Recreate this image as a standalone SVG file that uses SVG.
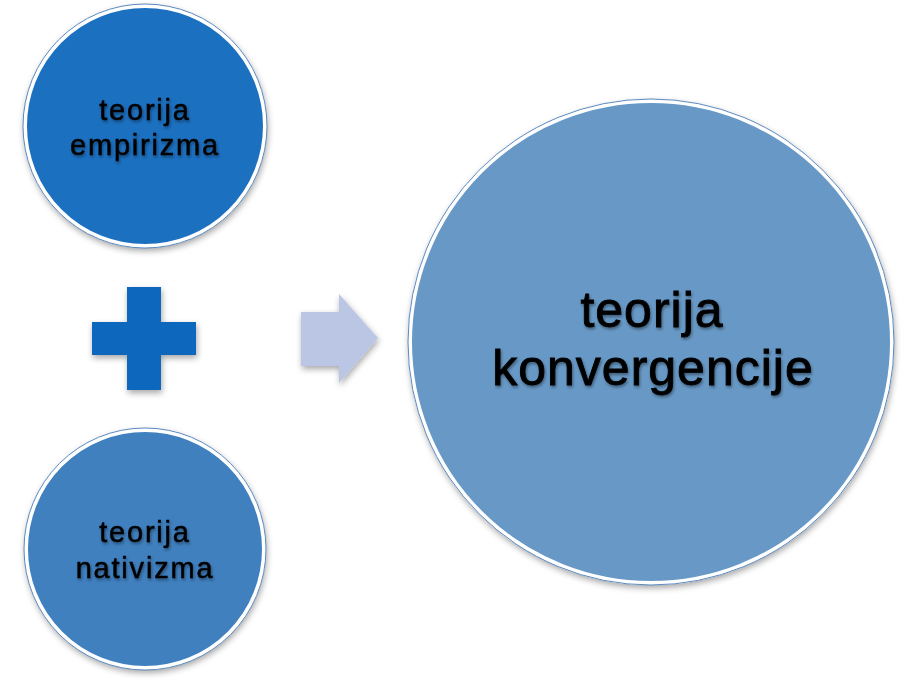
<svg xmlns="http://www.w3.org/2000/svg" width="905" height="680" viewBox="0 0 905 680">
<defs>
<filter id="sh" x="-20%" y="-20%" width="140%" height="140%">
<feDropShadow dx="1" dy="3" stdDeviation="3" flood-color="#000" flood-opacity="0.35"/>
</filter>
<filter id="tsh" x="-10%" y="-30%" width="120%" height="160%">
<feDropShadow dx="1" dy="2" stdDeviation="1.5" flood-color="#000" flood-opacity="0.4"/>
</filter>
<style>
.ring{stroke:#fff;stroke-width:4}
.edge{fill:none;stroke:#5b8ac0;stroke-width:1}
.lbl{font-family:"Liberation Sans","DejaVu Sans",sans-serif;fill:#000;stroke:#000;text-anchor:middle;filter:url(#tsh)}
.sm{font-size:29px;letter-spacing:1.8px;stroke-width:0.5px}
.lg{font-size:50px;letter-spacing:1px;stroke-width:0.9px}
</style>
</defs>
<rect width="905" height="680" fill="#fff"/>
<g id="empirizam">
<circle cx="145" cy="126" r="120" fill="#1E70C0" class="ring" filter="url(#sh)"/>
<circle cx="145" cy="126" r="122" class="edge"/>
<text class="lbl sm" x="145" y="120">teorija</text>
<text class="lbl sm" x="145" y="155">empirizma</text>
</g>
<g id="nativizam">
<circle cx="145" cy="549" r="119" fill="#3F80BF" class="ring" filter="url(#sh)"/>
<circle cx="145" cy="549" r="121" class="edge"/>
<text class="lbl sm" x="145" y="542">teorija</text>
<text class="lbl sm" x="145" y="578">nativizma</text>
</g>
<g id="konvergencija">
<circle cx="651" cy="342" r="241" fill="#6899C6" class="ring" filter="url(#sh)"/>
<circle cx="651" cy="342" r="243" class="edge" stroke="#8aa9cc"/>
<text class="lbl lg" x="652" y="327">teorija</text>
<text class="lbl lg" x="653" y="385">konvergencije</text>
</g>
<g id="connectors">
<path id="plus" d="M127 287H161V322H196V355H161V390H127V355H92V322H127Z" fill="#1068BD" filter="url(#sh)"/>
<path id="arrow" d="M301 312H339V294L378 338L339 383V366H301Z" fill="#BAC6E4" filter="url(#sh)"/>
</g>
</svg>
